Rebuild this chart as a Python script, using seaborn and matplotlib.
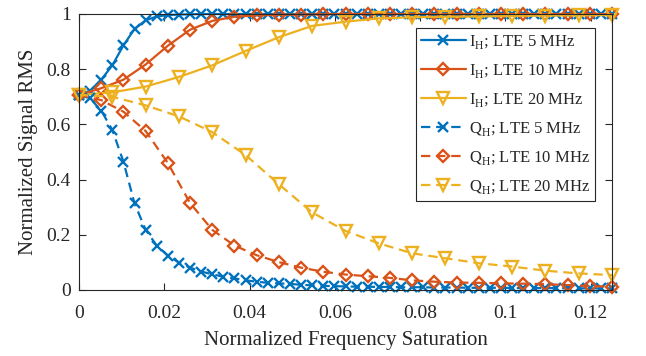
import numpy as np
import pandas as pd
import seaborn as sns
import matplotlib
matplotlib.use("Agg")
import matplotlib.pyplot as plt

# ---- data ----
x_max = 0.125
n5, n10, n20 = 49, 25, 17

i_5mhz = [0.707, 0.722, 0.762, 0.814, 0.886, 0.946, 0.977, 0.991, 0.996, 0.998, 0.999] + [1.0] * 38
q_5mhz = [0.707, 0.694, 0.650, 0.580, 0.465, 0.314, 0.218, 0.161, 0.125, 0.099,
          0.081, 0.067, 0.057, 0.048, 0.042, 0.035, 0.030, 0.026, 0.024, 0.022,
          0.019, 0.017, 0.015, 0.014, 0.013, 0.012, 0.012, 0.011, 0.011, 0.010,
          0.010, 0.010, 0.009, 0.009, 0.009, 0.008, 0.008, 0.008, 0.008, 0.007,
          0.007, 0.007, 0.007, 0.007, 0.006, 0.006, 0.006, 0.006, 0.006]
i_10mhz = [0.707, 0.731, 0.762, 0.817, 0.885, 0.943, 0.975, 0.990, 0.995, 0.997, 0.998, 0.999] + [1.0] * 13
q_10mhz = [0.707, 0.688, 0.646, 0.576, 0.460, 0.315, 0.218, 0.161, 0.126, 0.101,
           0.081, 0.066, 0.056, 0.050, 0.044, 0.035, 0.030, 0.027, 0.026, 0.024,
           0.023, 0.021, 0.018, 0.014, 0.012]
i_20mhz = [0.707, 0.716, 0.737, 0.772, 0.814, 0.866, 0.916, 0.957, 0.972, 0.984,
           0.988, 0.990, 0.991, 0.993, 0.994, 0.995, 0.996]
q_20mhz = [0.707, 0.700, 0.669, 0.629, 0.572, 0.489, 0.383, 0.281, 0.214, 0.169,
           0.133, 0.115, 0.097, 0.085, 0.070, 0.060, 0.054]

labels = [r"I$_{\mathregular{H}}$; LTE 5 MHz", r"I$_{\mathregular{H}}$; LTE 10 MHz",
          r"I$_{\mathregular{H}}$; LTE 20 MHz", r"Q$_{\mathregular{H}}$; LTE 5 MHz",
          r"Q$_{\mathregular{H}}$; LTE 10 MHz", r"Q$_{\mathregular{H}}$; LTE 20 MHz"]
xticks = [0, 0.02, 0.04, 0.06, 0.08, 0.1, 0.12]
xticklabels = ["0", "0.02", "0.04", "0.06", "0.08", "0.1", "0.12"]
yticks = [0, 0.2, 0.4, 0.6, 0.8, 1.0]
yticklabels = ["0", "0.2", "0.4", "0.6", "0.8", "1"]

colors = ["#0072BD", "#D95319", "#EDB120"]

sns.set_style("ticks")
plt.rcParams["font.family"] = ["Liberation Serif", "DejaVu Serif"]
plt.rcParams["mathtext.fontset"] = "custom"
plt.rcParams["mathtext.rm"] = "Liberation Serif"

fig = plt.figure(figsize=(6.46, 3.56), dpi=100)
ax = fig.add_axes([79 / 646, 1 - 290 / 356, (612 - 79) / 646, (290 - 14) / 356])

x5 = np.linspace(0, x_max, n5)
x10 = np.linspace(0, x_max, n10)
x20 = np.linspace(0, x_max, n20)

series = [
    (x5, i_5mhz, colors[0], "x", "-", 6.5),
    (x10, i_10mhz, colors[1], "D", "-", 6.5),
    (x20, i_20mhz, colors[2], "v", "-", 8.5),
    (x5, q_5mhz, colors[0], "x", "--", 6.5),
    (x10, q_10mhz, colors[1], "D", "--", 6.5),
    (x20, q_20mhz, colors[2], "v", "--", 8.5),
]
for (xs, ys, c, m, ls, ms), lab in zip(series, labels):
    df = pd.DataFrame({"x": xs, "y": ys})
    kw = dict(color=c, marker=m, linewidth=1.6, markersize=ms,
              markerfacecolor="none", markeredgecolor=c, markeredgewidth=1.7,
              label=lab, clip_on=False)
    if ls == "--":
        kw["dashes"] = (4.2, 2.6)
    sns.lineplot(data=df, x="x", y="y", ax=ax, **kw)

ax.set_xlim(0, x_max)
ax.set_ylim(0, 1)
ax.set_xticks(xticks)
ax.set_xticklabels(xticklabels)
ax.set_yticks(yticks)
ax.set_yticklabels(yticklabels)
ax.tick_params(direction="in", length=5, width=0.8, top=True, right=True,
               labelsize=14, colors="#262626")
ax.tick_params(axis="x", pad=11)
ax.tick_params(axis="y", pad=6)
for s in ax.spines.values():
    s.set_visible(True)
    s.set_color("#262626")
    s.set_linewidth(0.8)
ax.set_xlabel("Normalized Frequency Saturation", fontsize=15, color="#262626", labelpad=6)
ax.set_ylabel("Normalized Signal RMS", fontsize=15, color="#262626", labelpad=6)

leg = ax.legend(loc="upper right", bbox_to_anchor=(595 / 646, 1 - 28 / 356),
                bbox_transform=fig.transFigure, fontsize=12, frameon=True,
                fancybox=False, edgecolor="#262626", framealpha=1,
                handlelength=2.7, handletextpad=0.2, labelspacing=0.66,
                borderpad=0.3, borderaxespad=0)
leg.get_frame().set_linewidth(0.8)

fig.savefig("out.png", dpi=100)
